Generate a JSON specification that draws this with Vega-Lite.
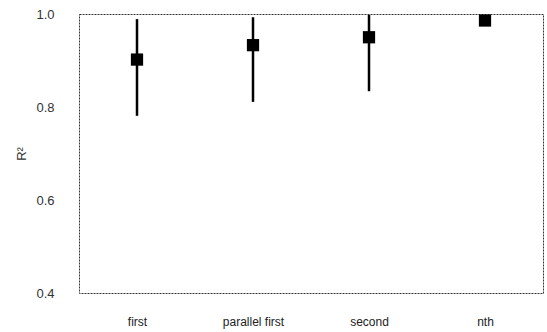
{
  "$schema": "https://vega.github.io/schema/vega-lite/v6.json",
  "width": 464,
  "height": 279,
  "autosize": {"type": "none"},
  "padding": {"left": 79, "top": 14, "right": 4, "bottom": 39},
  "background": "white",
  "config": {
    "view": {"stroke": "#333", "strokeWidth": 1, "strokeDash": [2, 1]},
    "font": "Liberation Sans"
  },
  "data": {
    "values": [
      {"method": "first", "mean": 0.902, "low": 0.781, "high": 0.989},
      {"method": "parallel first", "mean": 0.933, "low": 0.811, "high": 0.993},
      {"method": "second", "mean": 0.950, "low": 0.834, "high": 0.998},
      {"method": "nth", "mean": 0.986, "low": 0.980, "high": 0.992}
    ]
  },
  "encoding": {
    "x": {
      "field": "method",
      "type": "nominal",
      "sort": null,
      "scale": {"type": "point", "padding": 0.5},
      "axis": {
        "title": null,
        "labelAngle": 0,
        "ticks": false,
        "domain": false,
        "labelPadding": 23,
        "labelFontSize": 12,
        "labelColor": "#222",
        "labelFont": "Liberation Sans"
      }
    }
  },
  "layer": [
    {
      "mark": {"type": "rule", "color": "black", "strokeWidth": 2.5},
      "encoding": {
        "y": {
          "field": "low",
          "type": "quantitative",
          "scale": {"domain": [0.4, 1.0], "nice": false, "zero": false},
          "axis": {
            "title": "R²",
            "values": [0.4, 0.6, 0.8, 1.0],
            "format": ".1f",
            "grid": false,
            "ticks": false,
            "domain": false,
            "labelPadding": 25,
            "labelFontSize": 13,
            "labelColor": "#333",
            "titleFontSize": 13,
            "titleFontWeight": "normal",
            "titleColor": "#333",
            "titlePadding": 7
          }
        },
        "y2": {"field": "high"}
      }
    },
    {
      "mark": {"type": "point", "shape": "square", "filled": true, "color": "black", "opacity": 1, "size": 150},
      "encoding": {
        "y": {"field": "mean", "type": "quantitative"}
      }
    }
  ]
}
